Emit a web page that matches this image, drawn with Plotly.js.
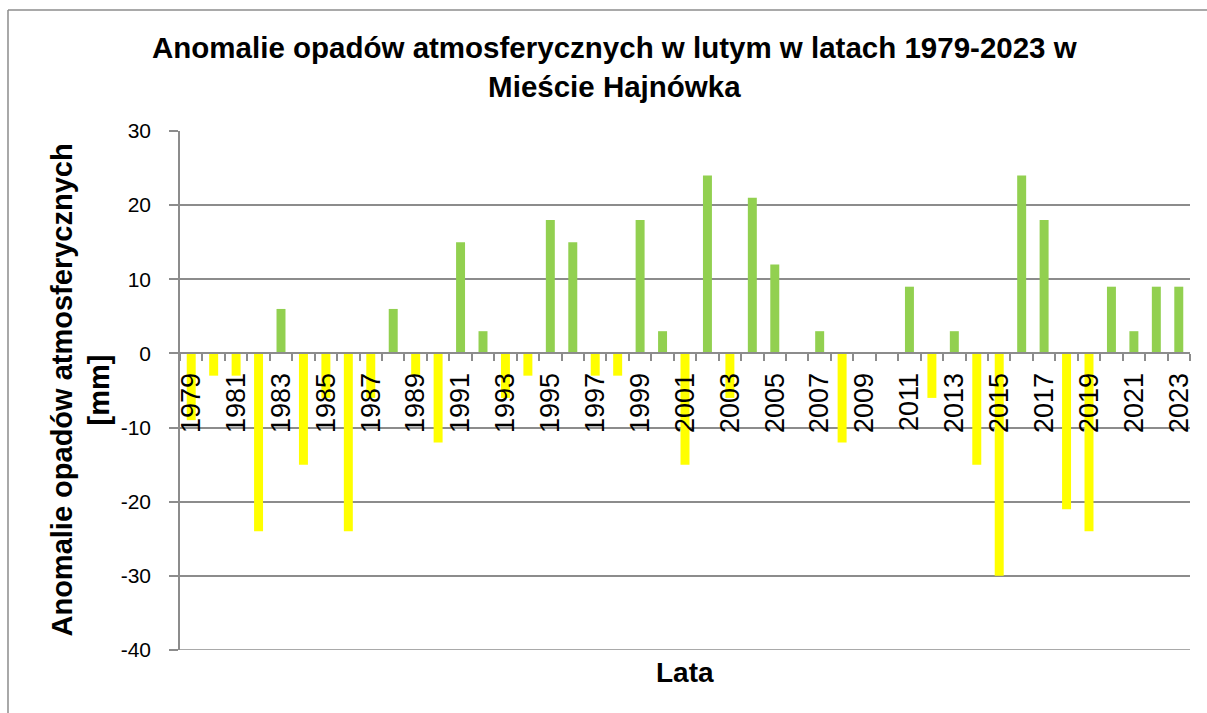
<!DOCTYPE html>
<html>
<head>
<meta charset="utf-8">
<script src="https://cdn.plot.ly/plotly-3.0.1.min.js"></script>
<style>html,body{margin:0;padding:0;background:#fff;}#chart{width:1207px;height:713px;}</style>
</head>
<body>
<div id="chart"></div>
<script>
var years = [1979,1980,1981,1982,1983,1984,1985,1986,1987,1988,1989,1990,1991,1992,1993,1994,1995,1996,1997,1998,1999,2000,2001,2002,2003,2004,2005,2006,2007,2008,2009,2010,2011,2012,2013,2014,2015,2016,2017,2018,2019,2020,2021,2022,2023];
var anomalies = [-9,-3,-3,-24,6,-15,-6,-24,-6,6,-3,-12,15,3,-6,-3,18,15,-3,-3,18,3,-15,24,-6,21,12,0,3,-12,0,0,9,-6,3,-15,-30,24,18,-21,-24,9,3,9,9];
var tickYears = [1979,1981,1983,1985,1987,1989,1991,1993,1995,1997,1999,2001,2003,2005,2007,2009,2011,2013,2015,2017,2019,2021,2023];
var tickLabels = tickYears.map(String);
var yTicks = [-40,-30,-20,-10,0,10,20,30];
var yTickLabels = ['-40','-30','-20','-10','0','10','20','30'];

var GREEN = '#92D050', YELLOW = '#FFFF00', GRID = '#8c8c8c';
var colors = anomalies.map(function(v){ return v >= 0 ? GREEN : YELLOW; });

var trace = {
  type: 'bar', x: years, y: anomalies, width: 0.4,
  marker: {color: colors, line: {width: 0}},
  hoverinfo: 'x+y', showlegend: false
};

var layout = {
  width: 1207, height: 713,
  margin: {l: 180, r: 17, t: 131, b: 63, pad: 0},
  paper_bgcolor: '#fff', plot_bgcolor: '#fff',
  font: {family: 'Liberation Sans, Arial, sans-serif', color: '#000'},
  title: {
    text: 'Anomalie opadów atmosferycznych w lutym w latach 1979-2023 w<br>Mieście Hajnówka',
    font: {family: 'Liberation Sans, Arial, sans-serif', size: 29.5, color: '#000', weight: 'bold'},
    x: 0.509, xref: 'container', xanchor: 'center',
    y: 0.918, yref: 'container', yanchor: 'top'
  },
  xaxis: {
    type: 'linear', range: [1978.5, 2023.5],
    anchor: 'free', position: 4/7,
    showline: true, linecolor: GRID, linewidth: 1.5,
    showgrid: false, zeroline: false,
    tickmode: 'array', tickvals: tickYears, ticktext: tickLabels,
    tickangle: -90, ticks: 'outside', ticklen: 8, tickcolor: 'rgba(0,0,0,0)',
    tickfont: {size: 27, color: '#000'},
    minor: {tickmode: 'linear', tick0: 1978.5, dtick: 1, ticks: 'outside', ticklen: 7, tickcolor: GRID, tickwidth: 1.5, showgrid: false}
  },
  yaxis: {
    range: [-40, 30], tickmode: 'array', tickvals: yTicks, ticktext: yTickLabels,
    showgrid: true, gridcolor: GRID, gridwidth: 1.5,
    zeroline: false, showline: true, linecolor: GRID, linewidth: 1.5,
    ticks: 'outside', ticklen: 9, tickcolor: GRID, tickwidth: 1.5,
    ticklabelstandoff: 14,
    tickfont: {size: 21, color: '#000'}
  },
  annotations: [
    {text: 'Anomalie opadów atmosferycznych<br>[mm]', textangle: -90,
     xref: 'paper', yref: 'paper', x: -0.099, y: 0.5, xanchor: 'center', yanchor: 'middle',
     showarrow: false, font: {size: 29, weight: 'bold', color: '#000'}},
    {text: 'Lata', xref: 'paper', yref: 'paper', x: 0.5, y: -0.0424, xanchor: 'center', yanchor: 'middle',
     showarrow: false, font: {size: 28, weight: 'bold', color: '#000'}}
  ],
  shapes: [
    {type: 'line', xref: 'paper', yref: 'y', x0: 0, x1: 1, y0: yTicks[0], y1: yTicks[0], line: {color: GRID, width: 1.5}, layer: 'below'},
    {type: 'line', xref: 'paper', yref: 'paper', x0: -0.1703, x1: -0.1703, y0: -0.13, y1: 1.2331, line: {color: GRID, width: 1.5}},
    {type: 'line', xref: 'paper', yref: 'paper', x0: -0.1703, x1: 1.02, y0: 1.2331, y1: 1.2331, line: {color: GRID, width: 1.5}}
  ]
};

Plotly.newPlot('chart', [trace], layout, {displayModeBar: false, responsive: false});
</script>
</body>
</html>
